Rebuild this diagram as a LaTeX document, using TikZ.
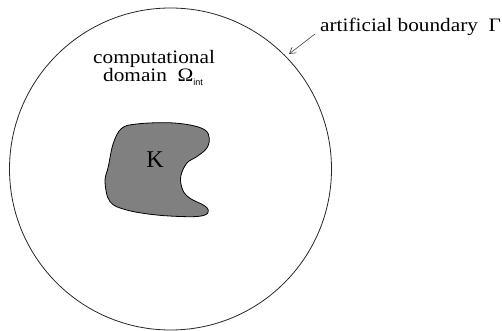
\documentclass[tikz,border=0pt]{standalone}
\usepackage{fontspec}
\setmainfont{Liberation Serif}
\setsansfont{Liberation Sans}
\usetikzlibrary{arrows.meta}
\newcommand{\widetxt}[1]{\scalebox{1.12}[1]{#1}}
\begin{document}
\begin{tikzpicture}[x=1pt,y=1pt,
  lbl/.style={font=\rmfamily\fontsize{19}{19}\selectfont, inner sep=0pt, anchor=base west},
  bndline/.style={draw=black!85, line width=0.8pt},
  obst/.style={draw=black, fill=black!50, line width=0.8pt},
  pointer/.style={draw=black!75, line width=0.6pt, -{Straight Barb[length=6pt,width=7pt]}}]
\useasboundingbox (0,0) rectangle (502,331);
\node[bndline, circle, minimum size=322pt, inner sep=0pt] (bnd) at (170.5,162) {};
\path[obst] plot[smooth cycle, tension=0.6] coordinates {
 (121.7,202.7) (136.7,207) (166.7,208.3) (190,206) (205,201) (209.3,192.7)
 (206.7,182.7) (196.7,174.3) (186.7,167.7) (180.7,154.3) (182.7,141)
 (190,132.7) (203.3,126) (208.3,121) (205,116) (190,114.3) (156.7,116)
 (126.7,121) (110,129.3) (105,149.3) (108.3,164.3) (113.3,187.7)};
\node[font=\rmfamily\fontsize{24}{24}\selectfont, inner sep=0pt, anchor=base] (k) at (155,163.5) {K};
\node[lbl] (art) at (320,299) {\widetxt{artificial boundary\ \ Γ}};
\node[lbl] (comp) at (93,267) {\widetxt{computational}};
\node[lbl] (dom) at (103,249) {\widetxt{domain\ \ Ω}\raisebox{-3.5pt}{\sffamily\fontsize{9}{9}\selectfont int}};
\coordinate (astart) at (315,297);
\coordinate (tip) at (289,277);
\draw[pointer] (astart) -- (tip);
\end{tikzpicture}
\end{document}
